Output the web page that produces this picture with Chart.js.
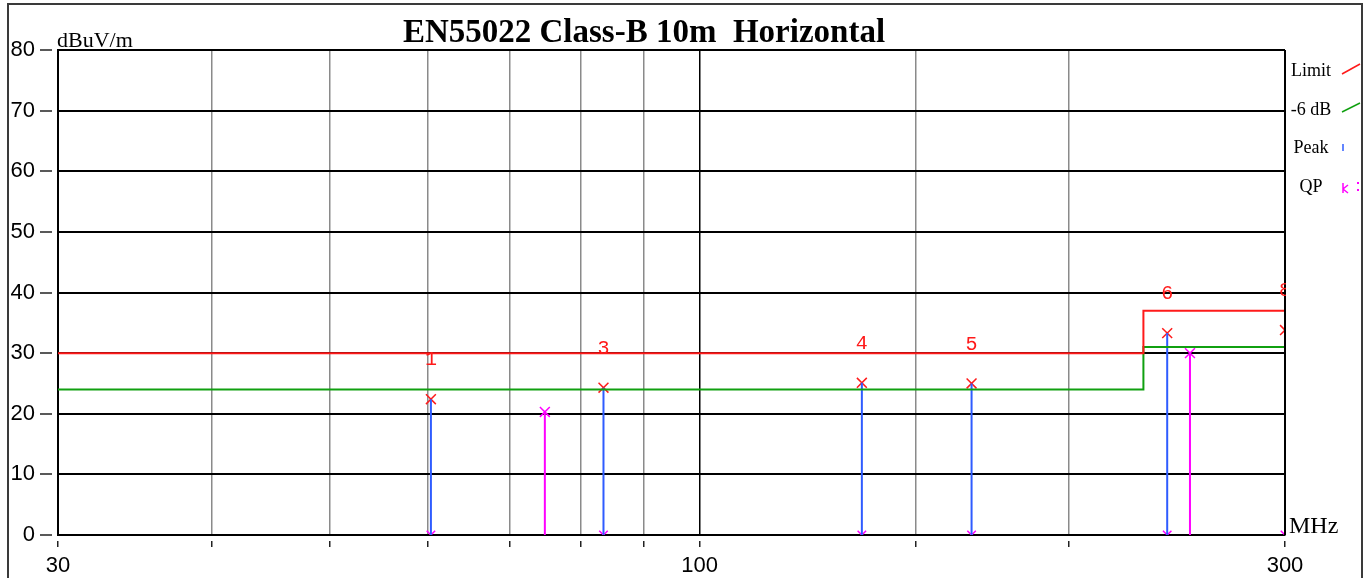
<!DOCTYPE html>
<html>
<head>
<meta charset="utf-8">
<script src="https://cdn.jsdelivr.net/npm/chart.js@4.4.0/dist/chart.umd.min.js"></script>
<style>
    html, body { margin: 0; padding: 0; background: #fff; overflow: hidden; }
    canvas { display: block; }
</style>
</head>
<body>
<canvas id="emcChart" width="1367" height="578"></canvas>
<script>
// values
const xTickLabels = [30, 100, 300];
const limitFreq = [30, 230, 230, 300];
const limitLevel = [30, 30, 37, 37];
const marginLevel = [24, 24, 31, 31];
const peakNo = [1, 3, 4, 5, 6, 8];
const peakFreq = [60.4, 83.5, 135.6, 166.6, 240.5, 300];
const peakLevel = [22.4, 24.3, 25.1, 25.0, 33.3, 33.8];
const qpFreq = [74.8, 251];
const qpLevel = [20.3, 30.0];
const legendNames = ['Limit', '-6 dB', 'Peak', 'QP'];

const RED = '#ff1a1a';
const GREEN = '#10a010';
const BLUE = '#2f5cff';
const MAGENTA = '#ff00ff';

function stems(freqs, levels) {
    // one vertical segment per emission, broken by a null point
    const out = [];
    freqs.forEach((f, i) => {
        out.push({x: f, y: 0}, {x: f, y: levels[i]}, {x: f, y: null});
    });
    return out;
}

function pts(freqs, levels) {
    return freqs.map((f, i) => ({x: f, y: levels[i]}));
}

const decorPlugin = {
    id: 'decor',
    afterDatasetsDraw(chart) {
        const {ctx, chartArea, scales: {x, y}} = chart;
        ctx.save();
        // right frame of the plot stays black over the last stem
        ctx.strokeStyle = '#000';
        ctx.lineWidth = 2;
        ctx.beginPath();
        ctx.moveTo(x.getPixelForValue(300), chartArea.top);
        ctx.lineTo(x.getPixelForValue(300), chartArea.bottom);
        ctx.stroke();

        ctx.beginPath();
        ctx.rect(chartArea.left, chartArea.top, chartArea.right - chartArea.left + 1, chartArea.bottom - chartArea.top);
        ctx.clip();
        ctx.fillStyle = RED;
        ctx.font = '20px "Liberation Mono", monospace';
        ctx.textAlign = 'center';
        ctx.textBaseline = 'middle';
        peakNo.forEach((n, i) => {
            ctx.fillText(String(n), x.getPixelForValue(peakFreq[i]), y.getPixelForValue(peakLevel[i]) - 39);
        });
        ctx.restore();
    },
    afterDraw(chart) {
        const {ctx, chartArea} = chart;
        ctx.save();

        // outer frame
        ctx.strokeStyle = '#3a3a3a';
        ctx.lineWidth = 2;
        ctx.beginPath();
        ctx.moveTo(8, 578);
        ctx.lineTo(8, 4);
        ctx.lineTo(1362, 4);
        ctx.lineTo(1362, 578);
        ctx.stroke();

        // title
        ctx.fillStyle = '#000';
        ctx.textAlign = 'center';
        ctx.textBaseline = 'alphabetic';
        ctx.font = 'bold 33px "Liberation Serif", serif';
        ctx.fillText('EN55022 Class-B 10m  Horizontal', 644, 42);

        // axis units
        ctx.textAlign = 'left';
        ctx.font = '22px "Liberation Serif", serif';
        ctx.fillText('dBuV/m', chartArea.left - 1, 47);
        ctx.font = '24px "Liberation Serif", serif';
        ctx.fillText('MHz', chartArea.right + 4, 533);

        // legend at the right
        ctx.textAlign = 'center';
        ctx.textBaseline = 'middle';
        ctx.font = '18px "Liberation Serif", serif';
        const rowY = [71, 110, 148, 187];
        legendNames.forEach((name, i) => ctx.fillText(name, 1311, rowY[i]));
        ctx.lineWidth = 1.5;
        ctx.strokeStyle = RED;
        ctx.beginPath(); ctx.moveTo(1342, 74); ctx.lineTo(1360, 64); ctx.stroke();
        ctx.strokeStyle = GREEN;
        ctx.beginPath(); ctx.moveTo(1342, 112); ctx.lineTo(1360, 103); ctx.stroke();
        ctx.strokeStyle = BLUE;
        ctx.beginPath(); ctx.moveTo(1343, 144); ctx.lineTo(1343, 151); ctx.stroke();
        ctx.strokeStyle = MAGENTA;
        ctx.beginPath();
        ctx.moveTo(1343, 183); ctx.lineTo(1343, 193);
        ctx.moveTo(1343, 189); ctx.lineTo(1348, 185);
        ctx.moveTo(1343, 189); ctx.lineTo(1348, 193);
        ctx.stroke();
        ctx.fillStyle = MAGENTA;
        ctx.fillRect(1357, 182, 2, 2);
        ctx.fillRect(1357, 189, 2, 2);

        ctx.restore();
    }
};

const ctx = document.getElementById('emcChart').getContext('2d');
new Chart(ctx, {
    type: 'scatter',
    data: {
        datasets: [
            {
                label: 'Limit',
                data: pts(limitFreq, limitLevel),
                showLine: true,
                borderColor: RED,
                borderWidth: 2,
                pointRadius: 0
            },
            {
                label: '-6 dB',
                data: pts(limitFreq, marginLevel),
                showLine: true,
                borderColor: GREEN,
                borderWidth: 2,
                pointRadius: 0
            },
            {
                label: 'Peak',
                data: stems(peakFreq, peakLevel),
                showLine: true,
                spanGaps: false,
                borderColor: BLUE,
                borderWidth: 2,
                pointRadius: 0
            },
            {
                label: 'QP',
                data: stems(qpFreq, qpLevel),
                showLine: true,
                spanGaps: false,
                borderColor: MAGENTA,
                borderWidth: 2,
                pointRadius: 0
            },
            {
                label: 'Peak marks',
                data: pts(peakFreq, peakLevel),
                pointStyle: 'crossRot',
                pointRadius: 7,
                pointBorderWidth: 1.5,
                pointBorderColor: RED,
                pointBackgroundColor: RED
            },
            {
                label: 'Peak base',
                data: peakFreq.map(f => ({x: f, y: 0})),
                pointStyle: 'crossRot',
                pointRadius: 6,
                pointBorderWidth: 1.5,
                pointBorderColor: MAGENTA,
                pointBackgroundColor: MAGENTA
            },
            {
                label: 'QP marks',
                data: pts(qpFreq, qpLevel),
                pointStyle: 'crossRot',
                pointRadius: 7,
                pointBorderWidth: 1.5,
                pointBorderColor: MAGENTA,
                pointBackgroundColor: MAGENTA
            }
        ]
    },
    options: {
        responsive: false,
        animation: false,
        layout: {
            padding: {top: 50, right: 82, left: 0, bottom: 0}
        },
        plugins: {
            legend: {display: false},
            tooltip: {enabled: false},
            title: {display: false}
        },
        scales: {
            x: {
                type: 'logarithmic',
                min: 30,
                max: 300,
                afterFit: function(scale) { scale.height = 43; },
                border: {display: true, color: '#000', width: 2},
                grid: {
                    color: function(c) {
                        return c.tick && xTickLabels.includes(c.tick.value) ? '#000' : '#8a8a8a';
                    },
                    lineWidth: 1.5,
                    tickColor: '#222',
                    tickLength: 12,
                    tickWidth: 1.5,
                    tickBorderDash: [0, 5, 7, 100]
                },
                ticks: {
                    autoSkip: false,
                    maxRotation: 0,
                    padding: 6,
                    color: '#000',
                    font: {family: '"Liberation Sans", sans-serif', size: 22},
                    callback: function(value) {
                        return xTickLabels.includes(value) ? String(value) : '';
                    }
                }
            },
            y: {
                min: 0,
                max: 80,
                afterFit: function(scale) { scale.width = 58; },
                border: {display: true, color: '#000', width: 2},
                grid: {
                    color: '#000',
                    lineWidth: 2,
                    tickColor: '#222',
                    tickLength: 18,
                    tickWidth: 1.5,
                    tickBorderDash: [12, 100]
                },
                ticks: {
                    stepSize: 10,
                    padding: 5,
                    color: '#000',
                    font: {family: '"Liberation Sans", sans-serif', size: 22}
                }
            }
        }
    },
    plugins: [decorPlugin]
});
</script>
</body>
</html>
